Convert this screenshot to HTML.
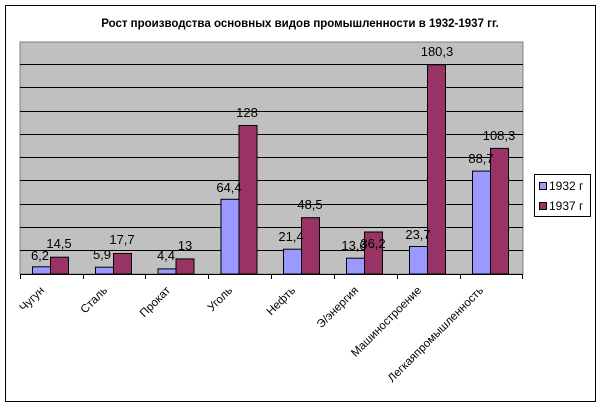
<!DOCTYPE html>
<html><head><meta charset="utf-8"><style>
html,body{margin:0;padding:0;background:#fff;}
svg{display:block;font-family:"Liberation Sans",Arial,sans-serif;}
</style></head><body>
<svg width="601" height="407" xmlns="http://www.w3.org/2000/svg">
<rect x="5.5" y="5.5" width="590" height="396" fill="#fff" stroke="#000" stroke-width="1"/>
<text x="300" y="27" text-anchor="middle" font-size="11.5" font-weight="bold">Рост производства основных видов промышленности в 1932-1937 гг.</text>
<rect x="20" y="42" width="503" height="232" fill="#c0c0c0" stroke="#808080" stroke-width="1"/>
<g stroke="#000" stroke-width="1">
<line x1="20" x2="523" y1="64.5" y2="64.5"/>
<line x1="20" x2="523" y1="87.5" y2="87.5"/>
<line x1="20" x2="523" y1="111.5" y2="111.5"/>
<line x1="20" x2="523" y1="134.5" y2="134.5"/>
<line x1="20" x2="523" y1="157.5" y2="157.5"/>
<line x1="20" x2="523" y1="180.5" y2="180.5"/>
<line x1="20" x2="523" y1="204.5" y2="204.5"/>
<line x1="20" x2="523" y1="227.5" y2="227.5"/>
<line x1="20" x2="523" y1="250.5" y2="250.5"/>
<line x1="20" x2="523" y1="274.5" y2="274.5"/>
<line x1="20.5" x2="20.5" y1="274" y2="279"/>
<line x1="83.5" x2="83.5" y1="274" y2="279"/>
<line x1="145.5" x2="145.5" y1="274" y2="279"/>
<line x1="208.5" x2="208.5" y1="274" y2="279"/>
<line x1="271.5" x2="271.5" y1="274" y2="279"/>
<line x1="334.5" x2="334.5" y1="274" y2="279"/>
<line x1="397.5" x2="397.5" y1="274" y2="279"/>
<line x1="460.5" x2="460.5" y1="274" y2="279"/>
<line x1="522.5" x2="522.5" y1="274" y2="279"/>
</g>
<g stroke="#000" stroke-width="1">
<rect x="32.5" y="266.8" width="18" height="7.2" fill="#9999ff"/>
<rect x="95.5" y="267.2" width="18" height="6.8" fill="#9999ff"/>
<rect x="158" y="268.9" width="18" height="5.1" fill="#9999ff"/>
<rect x="221" y="199.3" width="18" height="74.7" fill="#9999ff"/>
<rect x="283.5" y="249.2" width="18" height="24.8" fill="#9999ff"/>
<rect x="346.5" y="258.2" width="18" height="15.8" fill="#9999ff"/>
<rect x="409.5" y="246.5" width="18" height="27.5" fill="#9999ff"/>
<rect x="472.5" y="171.1" width="18" height="102.9" fill="#9999ff"/>
<rect x="50.5" y="257.2" width="18" height="16.8" fill="#993366"/>
<rect x="113.5" y="253.5" width="18" height="20.5" fill="#993366"/>
<rect x="176" y="258.9" width="18" height="15.1" fill="#993366"/>
<rect x="239" y="125.5" width="18" height="148.5" fill="#993366"/>
<rect x="301.5" y="217.7" width="18" height="56.3" fill="#993366"/>
<rect x="364.5" y="232" width="18" height="42" fill="#993366"/>
<rect x="427.5" y="64.8" width="18" height="209.2" fill="#993366"/>
<rect x="490.5" y="148.4" width="18" height="125.6" fill="#993366"/>
</g>
<g font-size="13" text-anchor="middle" fill="#000">
<text x="40" y="260">6,2</text>
<text x="59" y="248">14,5</text>
<text x="102" y="259">5,9</text>
<text x="122" y="244">17,7</text>
<text x="166" y="260">4,4</text>
<text x="185" y="250">13</text>
<text x="229" y="192">64,4</text>
<text x="247" y="117">128</text>
<text x="291" y="241">21,4</text>
<text x="310" y="209">48,5</text>
<text x="354" y="250">13,6</text>
<text x="373" y="248">36,2</text>
<text x="418" y="239">23,7</text>
<text x="437" y="56">180,3</text>
<text x="481" y="163">88,7</text>
<text x="499" y="140">108,3</text>
</g>
<g font-size="11.5" text-anchor="end" fill="#000">
<text transform="translate(45,291) rotate(-45)">Чугун</text>
<text transform="translate(108,291) rotate(-45)">Сталь</text>
<text transform="translate(171,291) rotate(-45)">Прокат</text>
<text transform="translate(233,291) rotate(-45)">Уголь</text>
<text transform="translate(296,291) rotate(-45)">Нефть</text>
<text transform="translate(359,291) rotate(-45)">Э/энергия</text>
<text transform="translate(422,291) rotate(-45)">Машиностроение</text>
<text transform="translate(484,291) rotate(-45)">Легкаяпромышленность</text>
</g>
<rect x="534.5" y="174.5" width="56" height="42" fill="#fff" stroke="#000"/>
<rect x="539.5" y="182.5" width="7" height="7" fill="#9999ff" stroke="#000"/>
<rect x="539.5" y="202.5" width="7" height="7" fill="#993366" stroke="#000"/>
<text x="549" y="190" font-size="12">1932 г</text>
<text x="549" y="210" font-size="12">1937 г</text>
</svg>
</body></html>
